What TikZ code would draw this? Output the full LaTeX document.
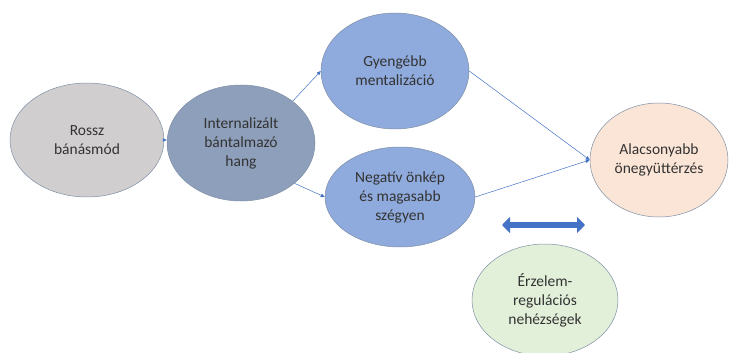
\documentclass[tikz,border=0pt]{standalone}
\usepackage{fontspec}
\setmainfont{Carlito}
\usepackage{tikz}
\usetikzlibrary{arrows.meta,shapes.geometric}
\definecolor{RosszBG}{HTML}{D0CECE}
\definecolor{InternBG}{HTML}{8E9FBB}
\definecolor{KozepBG}{HTML}{8FAADC}
\definecolor{CelBG}{HTML}{FBE5D6}
\definecolor{ErzBG}{HTML}{E2F0D9}
\definecolor{Keret}{HTML}{7F8FA6}
\definecolor{NyilCol}{HTML}{4472C4}

\begin{document}
\begin{tikzpicture}[x=1pt,y=-1pt,
  every node/.style={font=\fontsize{15.5}{19}\selectfont, text=black!80},
  bubble/.style={draw=Keret, line width=0.5pt, ellipse, inner sep=0pt, align=center},
  arr/.style={draw=NyilCol, line width=0.5pt, -{Triangle[length=4pt,width=3.5pt]}}]
  \useasboundingbox (0,0) rectangle (729,353);
  \node[bubble, fill=RosszBG, minimum width=154pt, minimum height=114pt]
    (rossz) at (87,140) {Rossz\\bánásmód};
  \node[bubble, fill=InternBG, minimum width=148pt, minimum height=116pt]
    (intern) at (241,143) {Internalizált\\bántalmazó\\hang};
  \node[bubble, fill=KozepBG, minimum width=148pt, minimum height=116pt]
    (gyenge) at (395,71) {Gyengébb\\mentalizáció};
  \node[bubble, fill=KozepBG, minimum width=150pt, minimum height=100pt]
    (negativ) at (400,197) {Negatív önkép\\és magasabb\\szégyen};
  \node[bubble, fill=CelBG, minimum width=138pt, minimum height=114pt]
    (alacsony) at (659,160) {Alacsonyabb\\önegyüttérzés};
  \node[bubble, fill=ErzBG, minimum width=146pt, minimum height=112pt]
    (erzelem) at (545,300) {Érzelem-\\regulációs\\nehézségek};
  \coordinate (kb) at (502,225);
  \coordinate (kj) at (585,225);
  \draw[arr] (rossz.east) -- (rossz.east -| intern.west);
  \draw[arr] (intern.39) -- (gyenge.west);
  \draw[arr] (intern.-37) -- (negativ.west);
  \draw[arr] (gyenge.east) -- (alacsony.west);
  \draw[arr] (negativ.east) -- (alacsony.west);
  \draw[NyilCol, line width=5.5pt,
    {Triangle[length=8pt,width=16pt]}-{Triangle[length=8pt,width=16pt]}] (kb) -- (kj);
\end{tikzpicture}
\end{document}
